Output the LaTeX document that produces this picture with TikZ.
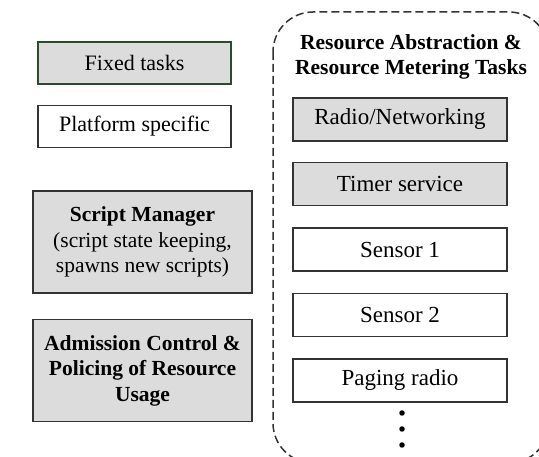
\documentclass[tikz,border=0pt]{standalone}
\usepackage{fontspec}
\setmainfont{Liberation Serif}
\usetikzlibrary{positioning}

\definecolor{boxgray}{HTML}{DCDCDC}
\definecolor{boxline}{HTML}{333333}
\definecolor{fixedline}{HTML}{2E4A2E}

\begin{document}
\begin{tikzpicture}[
    x=1pt, y=-1pt,
    font=\fontsize{21.5}{25.5}\selectfont,
    taskbox/.style={draw=boxline, line width=1.5pt, align=center, inner sep=0pt,
      minimum width=193pt, minimum height=42pt, font=\fontsize{22}{26}\selectfont},
    graybox/.style={taskbox, fill=boxgray},
    bigbox/.style={graybox, minimum width=219pt, minimum height=102pt,
      font=\fontsize{21.5}{25.5}\selectfont},
    resbox/.style={taskbox, minimum width=214pt, minimum height=43pt,
      font=\fontsize{23}{27}\selectfont},
    dot/.style={circle, fill=black, inner sep=0pt, minimum size=5.5pt}
  ]
    \useasboundingbox (0,0) rectangle (539,457);
    \fill[white] (0,0) rectangle (539,457);

    % left column
    \node[graybox, draw=fixedline] (fixed) at (134.5,63) {Fixed tasks};
    \node[taskbox, below=20pt of fixed] (platform) {Platform specific};
    \node[bigbox] (script) at (142.5,242)
      {\textbf{Script Manager}\\(script state keeping,\\spawns new scripts)};
    \node[bigbox, below=25pt of script] (admission)
      {\textbf{Admission Control \&}\\\textbf{Policing of Resource}\\\textbf{Usage}};

    % resource tasks
    \begin{scope}
      \clip (0,0) rectangle (539,457);
      \draw[boxline, line width=1.5pt, dash pattern=on 8pt off 4pt, rounded corners=40pt]
        (273,12) rectangle (549,463);
    \end{scope}
    \node[align=center] (restitle) at (411,57)
      {\textbf{Resource Abstraction \&}\\\textbf{Resource Metering Tasks}};
    \node[resbox, fill=boxgray] (radio) at (400,119.5) {Radio/Networking};
    \node[resbox, fill=boxgray, below=20pt of radio] (timer) {Timer service};
    \node[resbox, below=21pt of timer] (sensor1) {Sensor 1};
    \node[resbox, below=21pt of sensor1] (sensor2) {Sensor 2};
    \node[resbox, below=21pt of sensor2] (paging) {Paging radio};
    \foreach \i/\y in {1/413, 2/429, 3/445}
      \node[dot] (dot\i) at (402,\y) {};
  \end{tikzpicture}
\end{document}
